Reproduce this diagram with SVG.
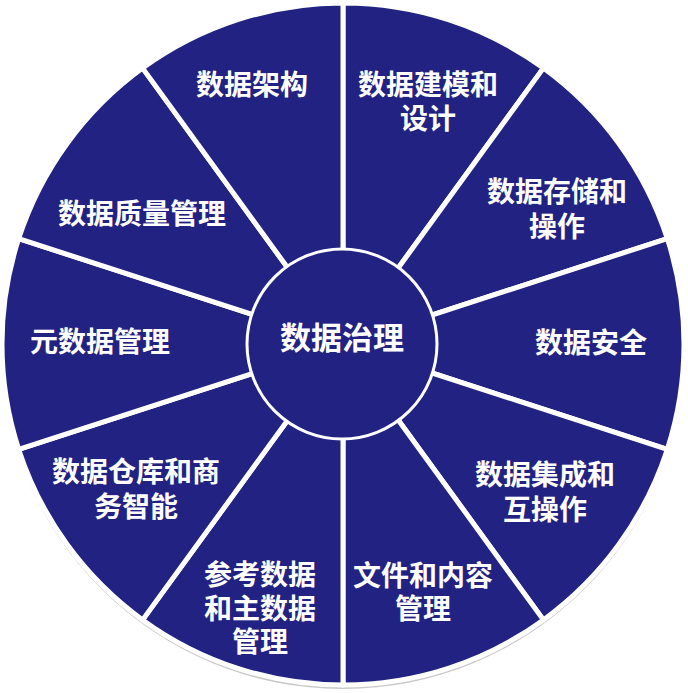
<svg xmlns="http://www.w3.org/2000/svg" width="688" height="693" viewBox="0 0 688 693">
<defs>
<style>
.sec{fill:#222283;stroke:#ffffff;stroke-width:5;stroke-linejoin:round}
.lbl{fill:#ffffff;font-family:"Noto Sans CJK SC","Noto Sans",sans-serif;font-weight:700;font-size:28px;text-anchor:middle;dominant-baseline:central}
.hub{fill:#222283;stroke:#ffffff;stroke-width:3}
.hubt{fill:#ffffff;font-family:"Noto Sans CJK SC","Noto Sans",sans-serif;font-weight:700;font-size:31px;text-anchor:middle;dominant-baseline:central}
</style>
</defs>
<rect width="688" height="693" fill="#ffffff"/>
<circle cx="343" cy="347" r="342" fill="#c8c8c8"/>
<circle cx="343" cy="344" r="342" fill="#f4f4f4"/>
<g id="connectors"></g>
<g id="n1"><path class="sec" d="M343 344 L343 3 A341 341 0 0 1 543.4 68.1 Z"/>
<text class="lbl" x="428" y="83">数据建模和</text><text class="lbl" x="428" y="117">设计</text></g>
<g id="n2"><path class="sec" d="M343 344 L543.4 68.1 A341 341 0 0 1 667.3 238.6 Z"/>
<text class="lbl" x="557" y="190">数据存储和</text><text class="lbl" x="557" y="225">操作</text></g>
<g id="n3"><path class="sec" d="M343 344 L667.3 238.6 A341 341 0 0 1 667.3 449.4 Z"/>
<text class="lbl" x="591" y="341">数据安全</text></g>
<g id="n4"><path class="sec" d="M343 344 L667.3 449.4 A341 341 0 0 1 543.4 619.9 Z"/>
<text class="lbl" x="545" y="473">数据集成和</text><text class="lbl" x="545" y="508">互操作</text></g>
<g id="n5"><path class="sec" d="M343 344 L543.4 619.9 A341 341 0 0 1 343 685 Z"/>
<text class="lbl" x="423" y="574">文件和内容</text><text class="lbl" x="423" y="607">管理</text></g>
<g id="n6"><path class="sec" d="M343 344 L343 685 A341 341 0 0 1 142.6 619.9 Z"/>
<text class="lbl" x="260" y="573">参考数据</text><text class="lbl" x="260" y="607">和主数据</text><text class="lbl" x="260" y="640">管理</text></g>
<g id="n7"><path class="sec" d="M343 344 L142.6 619.9 A341 341 0 0 1 18.7 449.4 Z"/>
<text class="lbl" x="136" y="470">数据仓库和商</text><text class="lbl" x="136" y="505">务智能</text></g>
<g id="n8"><path class="sec" d="M343 344 L18.7 449.4 A341 341 0 0 1 18.7 238.6 Z"/>
<text class="lbl" x="100" y="340">元数据管理</text></g>
<g id="n9"><path class="sec" d="M343 344 L18.7 238.6 A341 341 0 0 1 142.6 68.1 Z"/>
<text class="lbl" x="142" y="212">数据质量管理</text></g>
<g id="n0"><path class="sec" d="M343 344 L142.6 68.1 A341 341 0 0 1 343 3 Z"/>
<text class="lbl" x="252" y="83">数据架构</text></g>
<g id="center"><circle class="hub" cx="342" cy="344" r="95"/>
<text class="hubt" x="342" y="335">数据治理</text></g>
</svg>
